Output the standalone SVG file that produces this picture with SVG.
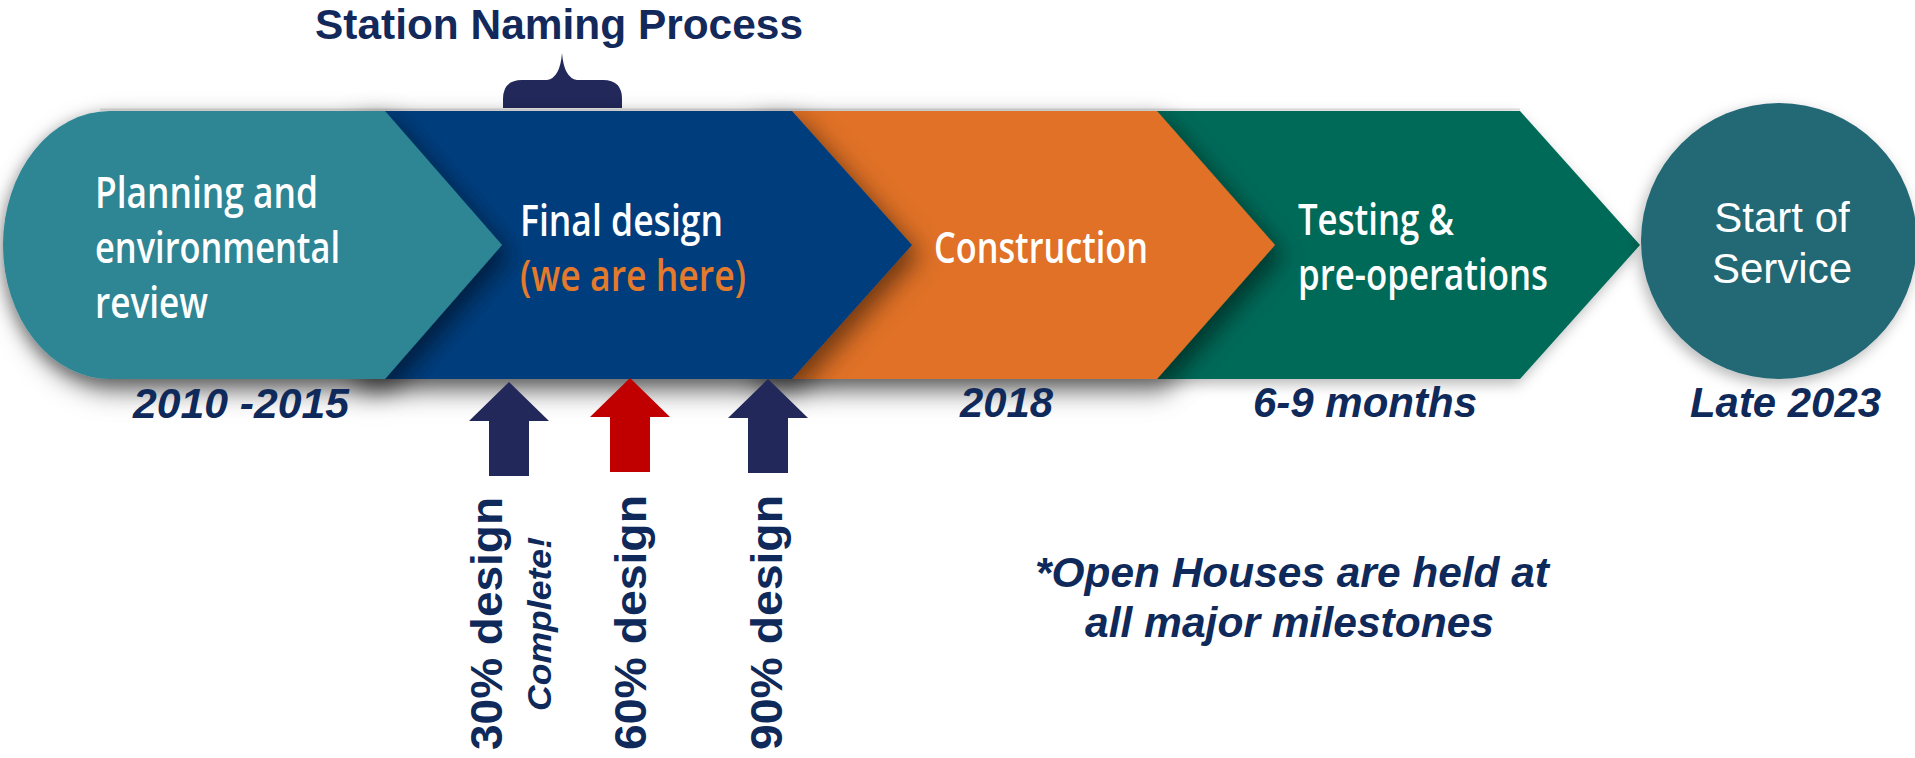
<svg xmlns="http://www.w3.org/2000/svg" width="1915" height="758" viewBox="0 0 1915 758">
  <defs>
    <style>
      .band { font-family: "Open Sans", "Liberation Sans", sans-serif; font-weight: 600; font-size: 43px; fill: #ffffff; }
      .here { fill: #e47a2c; }
      .lbl { font-family: "Liberation Sans", Arial, sans-serif; font-weight: bold; font-style: italic; font-size: 42px; fill: #0f2a5a; }
      .vt { font-family: "Liberation Sans", Arial, sans-serif; font-weight: bold; font-size: 45px; fill: #0f2a5a; }
      .vt2 { font-family: "Liberation Sans", Arial, sans-serif; font-weight: bold; font-style: italic; font-size: 34px; fill: #0f2a5a; }
      .title { font-family: "Liberation Sans", Arial, sans-serif; font-weight: bold; font-size: 42px; fill: #13295b; }
      .svc { font-family: "Liberation Sans", Arial, sans-serif; font-size: 42px; fill: #ffffff; text-anchor: middle; }
      .navyArrow { fill: #22285a; }
      .redArrow { fill: #c00000; }
    </style>
    <filter id="outerShadow" x="-5%" y="-20%" width="110%" height="140%">
      <feDropShadow dx="-3" dy="5" stdDeviation="7" flood-color="#000000" flood-opacity="0.28"/>
    </filter>
    <filter id="pointShadow" x="-10%" y="-20%" width="130%" height="150%">
      <feDropShadow dx="8" dy="10" stdDeviation="12" flood-color="#000000" flood-opacity="0.5"/>
    </filter>
    <path id="upArrow" d="M0,0 L40,39 L20,39 L20,94 L-20,94 L-20,39 L-40,39 Z"/>
  </defs>

  <rect x="0" y="0" width="1915" height="758" fill="#ffffff"/>

  <!-- Title -->
  <g id="title">
    <text class="title" x="315" y="39" textLength="488" lengthAdjust="spacingAndGlyphs">Station Naming Process</text>
  </g>

  <!-- Brace -->
  <g id="brace">
    <path d="M503,108 L503,99 Q503,80 522,80 L547,80 Q560,78 562,53 Q564,78 577,80 L603,80 Q622,80 622,99 L622,108 Z" fill="#22285a"/>
  </g>

  <line x1="100" y1="109.5" x2="1520" y2="109.5" stroke="#e2e2e2" stroke-width="2"/>

  <!-- Band -->
  <g id="band" filter="url(#outerShadow)">
    <g id="stage-testing">
      <polygon points="1100,111 1520,111 1640,245 1520,379 1100,379" fill="#046a58"/>
    </g>
    <g id="stage-construction" filter="url(#pointShadow)">
      <polygon points="750,111 1157,111 1275,245 1157,379 750,379" fill="#e07126"/>
    </g>
    <g id="stage-final" filter="url(#pointShadow)">
      <polygon points="350,111 792,111 912,245 792,379 350,379" fill="#043e7d"/>
    </g>
    <g id="stage-planning" filter="url(#pointShadow)">
      <path d="M110,111 L385,111 L502,245 L385,379 L110,379 A107,134 0 0 1 3,245 A107,134 0 0 1 110,111 Z" fill="#2e8594"/>
    </g>
  </g>

  <g id="stage-planning-text">
    <text class="band" x="95" y="208" textLength="223" lengthAdjust="spacingAndGlyphs">Planning and</text>
    <text class="band" x="95" y="263" textLength="245" lengthAdjust="spacingAndGlyphs">environmental</text>
    <text class="band" x="95" y="318" textLength="113" lengthAdjust="spacingAndGlyphs">review</text>
  </g>
  <g id="stage-final-text">
    <text class="band" x="520" y="236" textLength="203" lengthAdjust="spacingAndGlyphs">Final design</text>
    <text class="band here" x="520" y="291" textLength="226" lengthAdjust="spacingAndGlyphs">(we are here)</text>
  </g>
  <g id="stage-construction-text">
    <text class="band" x="934" y="263" textLength="214" lengthAdjust="spacingAndGlyphs">Construction</text>
  </g>
  <g id="stage-testing-text">
    <text class="band" x="1298" y="235" textLength="156" lengthAdjust="spacingAndGlyphs">Testing &amp;</text>
    <text class="band" x="1298" y="290" textLength="250" lengthAdjust="spacingAndGlyphs">pre-operations</text>
  </g>

  <!-- Start of service -->
  <g id="start-of-service">
    <circle cx="1779" cy="241" r="138" fill="#236774" filter="url(#outerShadow)"/>
    <text class="svc" x="1782" y="232">Start of</text>
    <text class="svc" x="1782" y="283">Service</text>
  </g>

  <!-- Timing labels -->
  <g id="timing-labels">
    <text class="lbl" x="133" y="418" textLength="216" lengthAdjust="spacingAndGlyphs">2010 -2015</text>
    <text class="lbl" x="960" y="417" textLength="93" lengthAdjust="spacingAndGlyphs">2018</text>
    <text class="lbl" x="1253" y="417" textLength="224" lengthAdjust="spacingAndGlyphs">6-9 months</text>
    <text class="lbl" x="1690" y="417" textLength="191" lengthAdjust="spacingAndGlyphs">Late 2023</text>
  </g>

  <!-- Milestone arrows -->
  <g id="milestone-30">
    <use href="#upArrow" class="navyArrow" x="509" y="382"/>
    <text class="vt" transform="translate(502,750) rotate(-90)" textLength="253" lengthAdjust="spacingAndGlyphs">30% design</text>
    <text class="vt2" transform="translate(551,711) rotate(-90)" textLength="174" lengthAdjust="spacingAndGlyphs">Complete!</text>
  </g>
  <g id="milestone-60">
    <use href="#upArrow" class="redArrow" x="630" y="378"/>
    <text class="vt" transform="translate(646,750) rotate(-90)" textLength="255" lengthAdjust="spacingAndGlyphs">60% design</text>
  </g>
  <g id="milestone-90">
    <use href="#upArrow" class="navyArrow" x="768" y="379"/>
    <text class="vt" transform="translate(782,750) rotate(-90)" textLength="255" lengthAdjust="spacingAndGlyphs">90% design</text>
  </g>

  <!-- Note -->
  <g id="note">
    <text class="lbl" x="1035" y="587" textLength="514" lengthAdjust="spacingAndGlyphs">*Open Houses are held at</text>
    <text class="lbl" x="1085" y="637" textLength="409" lengthAdjust="spacingAndGlyphs">all major milestones</text>
  </g>

  <g id="connectors"></g>
</svg>
